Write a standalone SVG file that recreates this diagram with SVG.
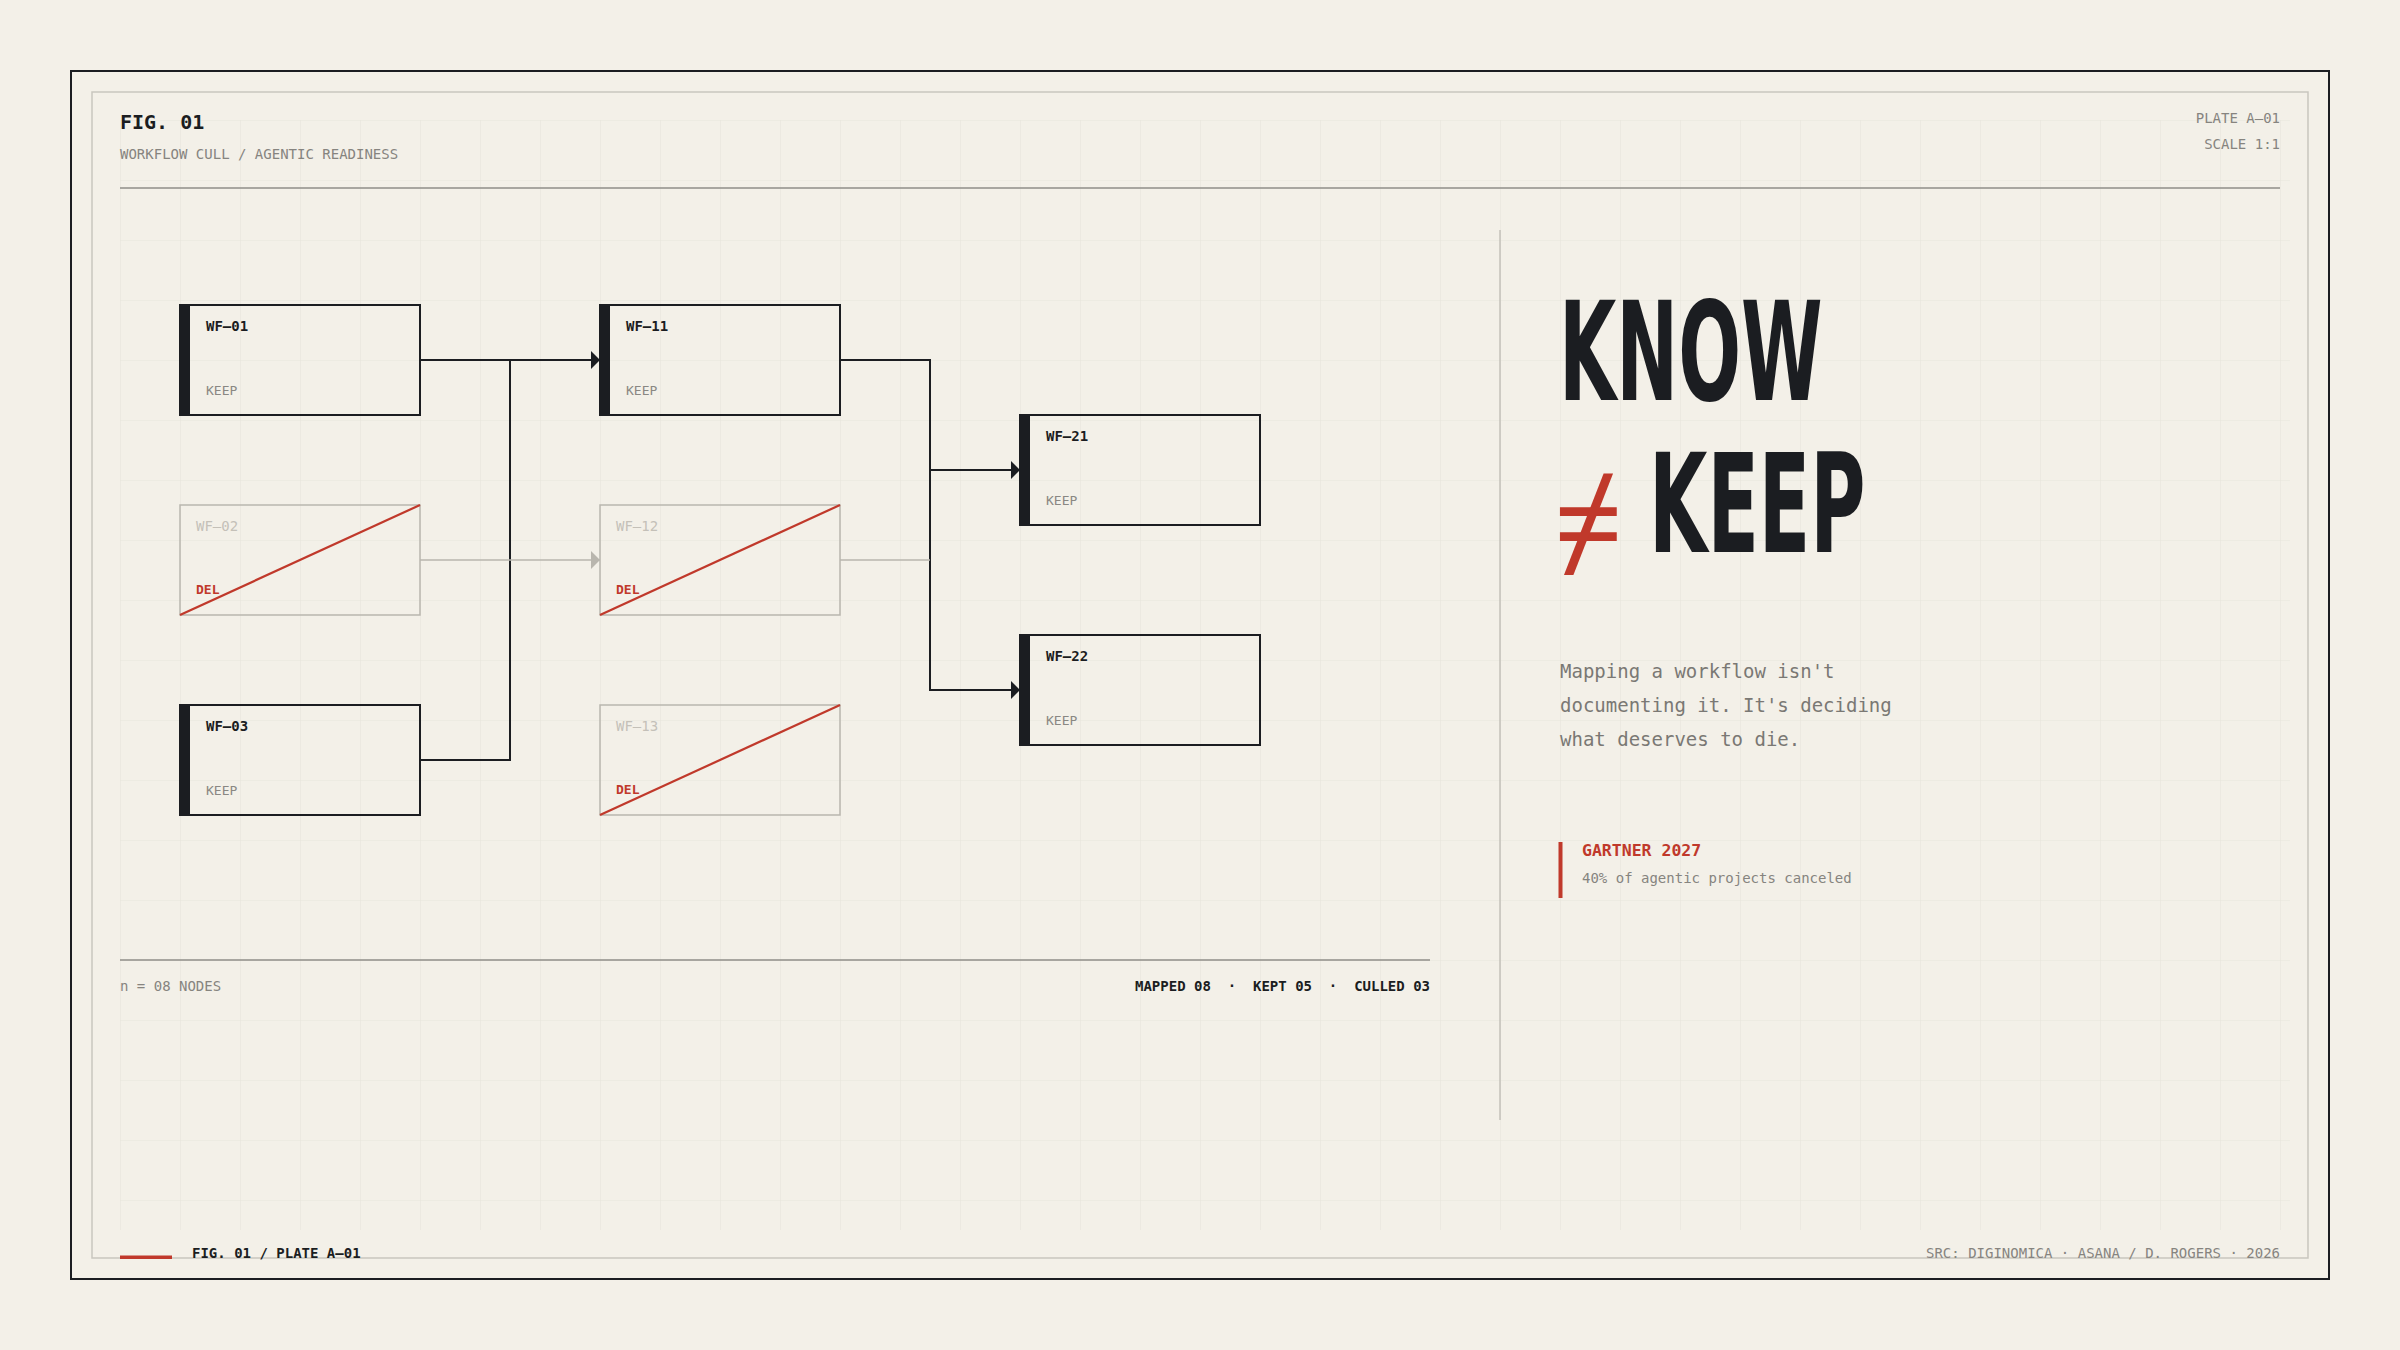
<svg xmlns="http://www.w3.org/2000/svg" width="2400" height="1350" viewBox="0 0 2400 1350">
<defs>
<style>
.mono{font-family:"DejaVu Sans Mono","Liberation Mono",monospace;}
.b{font-weight:bold;}
.dark{fill:#1b1d21;}
.gray{fill:#86847f;}
.red{fill:#c0392b;}
.t14{font-size:14px;}
.node-box{fill:none;stroke:#1b1d21;stroke-width:2;}
.node-bar{fill:#1b1d21;}
.del-box{fill:none;stroke:#b9b6ae;stroke-width:1.5;}
.del-x{stroke:#c0392b;stroke-width:2.2;}
.title{font-family:"DejaVu Sans Mono","Liberation Mono",monospace;font-size:14px;font-weight:bold;fill:#1b1d21;}
.title-del{font-family:"DejaVu Sans Mono","Liberation Mono",monospace;font-size:14px;fill:#c4c0b8;}
.status{font-family:"DejaVu Sans Mono","Liberation Mono",monospace;font-size:13px;fill:#8a8883;}
.status-del{font-family:"DejaVu Sans Mono","Liberation Mono",monospace;font-size:13px;font-weight:bold;fill:#c0392b;}
.wire{fill:none;stroke:#1b1d21;stroke-width:2;}
.wire-g{fill:none;stroke:#b9b6ae;stroke-width:1.5;}
.rule{stroke:#8f8e89;stroke-width:1.3;}
.head{font-family:"DejaVu Sans","Liberation Sans",sans-serif;font-weight:bold;font-size:137px;fill:#1b1d21;}
.para{font-family:"DejaVu Sans Mono","Liberation Mono",monospace;font-size:19px;fill:#7a7874;}
</style>
<pattern id="grid" x="120" y="120" width="60" height="60" patternUnits="userSpaceOnUse">
<path d="M0,0 H60 M0,0 V60" fill="none" stroke="#e8e5dc" stroke-width="1.2"/>
</pattern>
<marker id="arr" markerUnits="userSpaceOnUse" markerWidth="10" markerHeight="18" refX="9" refY="9" orient="auto">
<path d="M0,0 L9,9 L0,18 Z" fill="#1b1d21"/>
</marker>
<marker id="arr-g" markerUnits="userSpaceOnUse" markerWidth="10" markerHeight="18" refX="9" refY="9" orient="auto">
<path d="M0,0 L9,9 L0,18 Z" fill="#b9b6ae"/>
</marker>
</defs>

<rect x="0" y="0" width="2400" height="1350" fill="#f3f0e8"/>
<rect x="120" y="120" width="2170" height="1110" fill="url(#grid)"/>
<rect x="71" y="71" width="2258" height="1208" fill="none" stroke="#1b1d21" stroke-width="2"/>
<rect x="92" y="92" width="2216" height="1166" fill="none" stroke="#c9c6be" stroke-width="1.5"/>

<g id="header">
<text x="120" y="129" class="mono b dark" font-size="20">FIG. 01</text>
<text x="120" y="159" class="mono gray t14">WORKFLOW CULL / AGENTIC READINESS</text>
<text x="2280" y="123" class="mono gray t14" text-anchor="end">PLATE A–01</text>
<text x="2280" y="149" class="mono gray t14" text-anchor="end">SCALE 1:1</text>
<line x1="120" y1="188" x2="2280" y2="188" class="rule"/>
</g>

<g id="connectors">
<path d="M420,360 H600" class="wire" marker-end="url(#arr)"/>
<path d="M420,760 H510 V360" class="wire"/>
<path d="M840,360 H930 V690 H1020" class="wire" marker-end="url(#arr)"/>
<path d="M930,470 H1020" class="wire" marker-end="url(#arr)"/>
<path d="M420,560 H600" class="wire-g" marker-end="url(#arr-g)"/>
<path d="M840,560 H930" class="wire-g"/>
</g>

<g id="wf-01">
<rect x="180" y="305" width="240" height="110" class="node-box"/>
<rect x="180" y="305" width="10" height="110" class="node-bar"/>
<text x="206" y="331" class="title">WF–01</text>
<text x="206" y="395" class="status">KEEP</text>
</g>
<g id="wf-02">
<rect x="180" y="505" width="240" height="110" class="del-box"/>
<line x1="180" y1="615" x2="420" y2="505" class="del-x"/>
<text x="196" y="531" class="title-del">WF–02</text>
<text x="196" y="594" class="status-del">DEL</text>
</g>
<g id="wf-03">
<rect x="180" y="705" width="240" height="110" class="node-box"/>
<rect x="180" y="705" width="10" height="110" class="node-bar"/>
<text x="206" y="731" class="title">WF–03</text>
<text x="206" y="795" class="status">KEEP</text>
</g>
<g id="wf-11">
<rect x="600" y="305" width="240" height="110" class="node-box"/>
<rect x="600" y="305" width="10" height="110" class="node-bar"/>
<text x="626" y="331" class="title">WF–11</text>
<text x="626" y="395" class="status">KEEP</text>
</g>
<g id="wf-12">
<rect x="600" y="505" width="240" height="110" class="del-box"/>
<line x1="600" y1="615" x2="840" y2="505" class="del-x"/>
<text x="616" y="531" class="title-del">WF–12</text>
<text x="616" y="594" class="status-del">DEL</text>
</g>
<g id="wf-13">
<rect x="600" y="705" width="240" height="110" class="del-box"/>
<line x1="600" y1="815" x2="840" y2="705" class="del-x"/>
<text x="616" y="731" class="title-del">WF–13</text>
<text x="616" y="794" class="status-del">DEL</text>
</g>
<g id="wf-21">
<rect x="1020" y="415" width="240" height="110" class="node-box"/>
<rect x="1020" y="415" width="10" height="110" class="node-bar"/>
<text x="1046" y="441" class="title">WF–21</text>
<text x="1046" y="505" class="status">KEEP</text>
</g>
<g id="wf-22">
<rect x="1020" y="635" width="240" height="110" class="node-box"/>
<rect x="1020" y="635" width="10" height="110" class="node-bar"/>
<text x="1046" y="661" class="title">WF–22</text>
<text x="1046" y="725" class="status">KEEP</text>
</g>

<g id="diagram-footer">
<line x1="120" y1="960" x2="1430" y2="960" class="rule"/>
<text x="120" y="991" class="mono gray t14">n = 08 NODES</text>
<text x="1430" y="991" class="mono b dark t14" text-anchor="end" style="white-space:pre" xml:space="preserve">MAPPED 08  ·  KEPT 05  ·  CULLED 03</text>
</g>

<line x1="1500" y1="230" x2="1500" y2="1120" stroke="#bdbab3" stroke-width="1.3"/>

<g id="headline">
<text class="head" transform="translate(1559,400) scale(0.54,1)">KNOW</text>
<text x="1553" y="568" font-family="Noto Sans, sans-serif" font-size="124" fill="#c0392b">≠</text>
<text class="head" transform="translate(1649,552) scale(0.55,1)">KEEP</text>
</g>

<g id="statement">
<text x="1560" y="678" class="para">Mapping a workflow isn't</text>
<text x="1560" y="712" class="para">documenting it. It's deciding</text>
<text x="1560" y="746" class="para">what deserves to die.</text>
</g>

<g id="citation">
<rect x="1558.5" y="842" width="4" height="56" fill="#c0392b"/>
<text x="1582" y="856" class="mono b red" font-size="16.5">GARTNER 2027</text>
<text x="1582" y="883" class="mono gray t14">40% of agentic projects canceled</text>
</g>

<g id="plate-footer">
<rect x="120" y="1255.5" width="52" height="3.5" fill="#c0392b"/>
<text x="192" y="1258" class="mono b dark t14">FIG. 01 / PLATE A–01</text>
<text x="2280" y="1258" class="mono gray t14" text-anchor="end">SRC: DIGINOMICA · ASANA / D. ROGERS · 2026</text>
</g>
</svg>
